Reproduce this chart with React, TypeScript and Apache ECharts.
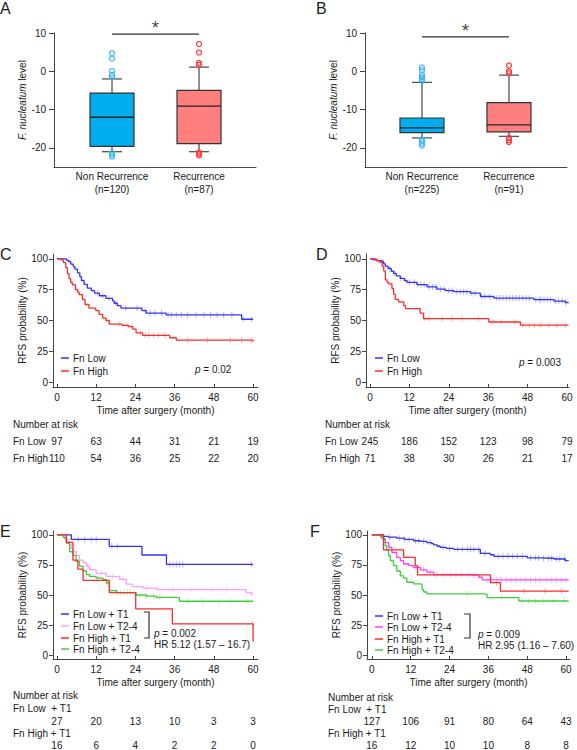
import React, { useEffect, useRef } from 'react';
import * as echarts from 'echarts';

const FONT = '"Liberation Sans", Arial, Helvetica, sans-serif';
const TXT = '#1a1a1a';
const AX = '#444';

// ---------- Panel A / B (box plots) ----------
const boxCategoriesA = ['Non Recurrence\n(n=120)', 'Recurrence\n(n=87)'];
// [lowWhisker, q1, median, q3, highWhisker]
const boxStatsA = [
  [-21, -19.6, -12, -5.7, -2],
  [-21, -18.9, -9.1, -5, 1.1],
];
const outliersA0 = [4.7, 3.3, 0.1, -0.9, -1.6, -21.3, -21.8, -22.3];
const outliersA1 = [7.1, 4.9, 2.2, 1.7, -21.2, -21.6, -22];
const sigLevelA = 9.7;

const boxCategoriesB = ['Non Recurrence\n(n=225)', 'Recurrence\n(n=91)'];
const boxStatsB = [
  [-17.4, -16, -14.8, -12.2, -2.9],
  [-17, -15.8, -14, -8.2, -1],
];
const outliersB0 = [1, 0.3, -0.9, -1.5, -2, -2.5, -17.8, -18.3, -18.9, -19.4];
const outliersB1 = [1.5, 0, -0.5, -17.4, -18, -18.5];
const sigLevelB = 9;
const boxTicks = [-20, -10, 0, 10];

// ---------- KM curves ----------
const kmTicksX = [0, 12, 24, 36, 48, 60];
const kmTicksY = [0, 25, 50, 75, 100];

const kmC_low: number[][] = [[0,100],[3,98.9],[3.6,97.9],[4.2,95.8],[5,93.8],[5.5,91.7],[6.3,88.6],[7,85.6],[7.5,82.5],[8.3,79.4],[9.3,76.3],[10.5,74.2],[11.5,72.2],[13,70.1],[15,68],[17,66],[17.5,64],[18.5,62],[19.6,60],[26,58],[27.3,56],[33.4,54.5],[56,54.5],[56.5,51],[60,51]];
const kmC_high: number[][] = [[0,100],[1.5,99],[2,97],[2.7,93],[3.2,88],[3.7,84],[4.2,81],[4.7,79],[5.7,75],[6.3,73],[6.8,71],[7.8,67],[8.6,63],[9.8,60],[11.9,58],[12.9,55],[14,52],[15,50],[16,47],[20,46],[22,45],[23.2,43],[24.2,40],[26.2,38],[34.5,36],[36.5,34],[60,34],[60,33]];
const censorC_low = [12.5, 14, 16, 18, 21, 24.5, 27, 28.5, 30, 32, 34, 35, 36.5, 38, 40, 42.5, 45, 47, 49, 51, 53.5, 57, 59.5];
const censorC_high = [19, 21.5, 23, 25.5, 27, 28, 29.5, 31, 33, 40, 46, 53, 56.5, 59.5];

const kmD_low: number[][] = [[0,100],[1,99.2],[2,98.6],[3.7,97.5],[4.2,96],[4.7,94.2],[5.5,92.3],[6.5,90],[7.2,88.2],[8,86.3],[9.2,84.2],[10.5,82.4],[11.3,81],[14.3,79.2],[17.4,77.3],[20.4,75.4],[23,74.3],[25.5,73.4],[30.6,72.2],[33.6,69.5],[37.7,68.2],[49.9,67],[56,65.8],[59.5,64.6],[60.5,64.6]];
const kmD_high: number[][] = [[0,100],[2,98.6],[3,97.2],[3.7,94.1],[4.2,90.1],[4.7,83],[5.2,81],[5.7,79.7],[6.7,76],[7.2,71.4],[7.7,67.1],[8.7,65.2],[10.3,62],[10.8,59.7],[14.8,59.7],[15.3,56],[16.3,51.6],[35.7,51.6],[36.2,48.8],[45.3,48.8],[45.8,46.2],[60.5,46.2]];
const censorD_low = [2.5, 4, 6, 7.5, 9.5, 11, 12, 13.5, 14.5, 15.5, 16.5, 18, 19, 20, 21.5, 22.5, 24, 25, 26.5, 27.5, 28.5, 29.5, 31, 32, 34, 35, 36.5, 38.5, 39.5, 40.5, 41.5, 42.5, 43.5, 44.5, 45.5, 46.5, 47.5, 48.5, 50.5, 51.5, 52, 53, 54, 55, 56.5, 57.5, 58.5, 59.5];
const censorD_high = [16.5, 18, 22, 25, 28, 33, 37.5, 40, 44, 46.5, 48.5, 50, 52, 54.5, 57, 59.5];

const kmE_lowT1: number[][] = [[0,100],[4.4,96.3],[16,90.5],[26,83.3],[33.5,75.5],[60,75.5]];
const kmE_lowT24: number[][] = [[0,100],[2.4,98],[2.9,96],[3.4,94],[3.9,92],[4.4,89],[4.9,86],[5.9,83],[6.9,79],[8,77],[9,74],[10,71],[12,68],[15.1,65.5],[19.2,63],[21.2,59],[23.2,57],[26.3,55.8],[30.4,54.5],[57.9,52],[59.5,51],[60,51]];
const kmE_highT1: number[][] = [[0,100],[2.9,93.8],[4.9,79],[6.4,71.5],[8,62.2],[16,52],[24.1,38.5],[35.3,26],[60,26],[60,11]];
const kmE_highT24: number[][] = [[0,100],[1.9,98],[2.4,97],[2.9,93],[3.9,86],[4.9,83],[5.9,78],[6.9,74],[8,70],[9,67],[10,65.5],[12,64],[14.1,63],[15.1,60],[16.1,53.7],[18.2,52],[24.2,50],[27.3,49],[30.4,48],[36.5,47.6],[37.5,44.8],[60,44.8]];
const censorE_lowT1 = [6.5, 8.5, 10.5, 12, 16.8, 18.5, 34.5, 35.5, 36.5, 37.5, 38.5, 59.5];
const censorE_lowT24 = [9.5, 13.5, 17, 20.5, 27.5, 31, 35.5, 41, 47.5, 52, 59.5];
const censorE_highT1 = [59.8];
const censorE_highT24 = [12.5, 15.5, 18.5, 19.5, 20.5, 21.5, 22.5, 23.5, 25.5, 27.5, 29.5, 31.5, 40, 44.5, 49.5, 53, 58];

const kmF_lowT1: number[][] = [[0,100],[3.6,98.8],[5,98.2],[7.7,97.3],[10,96.3],[12.9,95.2],[15,94.6],[17,93.6],[18.5,92.8],[19.1,91.8],[20.2,90.6],[21.1,89.6],[23,88.8],[25.3,88],[33.5,84.6],[36.6,83.5],[37.7,82.2],[48,81],[52,80.6],[56.3,80],[59.8,78.6],[60.8,78.6]];
const kmF_lowT24: number[][] = [[0,100],[3.1,97],[4.1,93.7],[5.2,89.6],[6.2,85.4],[7.7,81.3],[8.8,78.6],[9.8,75.8],[11.4,74.5],[12.9,73],[15,70.9],[17,69],[19.1,67],[29.4,66.5],[33,64.8],[34.1,62.6],[60.8,62.6]];
const kmF_highT1: number[][] = [[0,100],[3.6,87.5],[9.8,81.3],[13.4,74.5],[14.1,66.8],[36.6,60.3],[39.7,53.3],[60.8,53.3]];
const kmF_highT24: number[][] = [[0,100],[2.6,98.5],[3.6,96.4],[4.1,91],[4.6,87],[5.2,82.7],[5.7,78.6],[6.7,74.5],[7.7,70],[8.8,66],[9.8,64],[10.8,60.6],[12.9,59.3],[15,58.8],[15.5,54.4],[16,52.5],[17,51],[34.6,50.5],[35.6,47.8],[45.4,45],[60.8,45]];
const censorF_lowT1 = [5.5, 8.5, 10, 11.5, 13.5, 14.5, 16, 18, 22, 24, 26.5, 28, 29.5, 30.5, 31.5, 33, 35, 39, 40.5, 42, 43.5, 45, 46.5, 49, 50.5, 51.5, 53, 54.5, 55.5, 57, 58, 59.5];
const censorF_lowT24 = [13.5, 16, 18, 20, 22, 24.5, 26, 27.5, 30, 31.5, 35.5, 37, 38.5, 40, 41.5, 43, 44.5, 46, 47.5, 49, 50.5, 52, 54, 55.5, 57, 58.5, 60];
const censorF_highT1 = [38.5, 47, 53.5, 58.5];
const censorF_highT24 = [29.5, 40, 46.5, 48.5, 50.5, 53, 56, 59.5];

// Number at risk
const riskC_low = [97, 63, 44, 31, 21, 19];
const riskC_high = [110, 54, 36, 25, 22, 20];
const riskD_low = [245, 186, 152, 123, 98, 79];
const riskD_high = [71, 38, 30, 26, 21, 17];
const riskE_lowT1 = [27, 20, 13, 10, 3, 3];
const riskE_highT1 = [16, 6, 4, 2, 2, 0];
const riskF_lowT1 = [127, 106, 91, 80, 64, 43];
const riskF_highT1 = [16, 12, 10, 10, 8, 8];

// ---------- layout ----------
const L = {
  A: { left: 54, top: 33, width: 202, height: 134, xMin: -0.667, xMax: 1.655, yMin: -25, yMax: 10 },
  B: { left: 365, top: 33, width: 202, height: 134, xMin: -0.655, xMax: 1.667, yMin: -25, yMax: 10 },
  C: { left: 53, top: 254, width: 205, height: 133, xMin: -1.2, xMax: 61.5, yMin: -4, yMax: 104 },
  D: { left: 366, top: 254, width: 203, height: 133, xMin: -1.2, xMax: 60.6, yMin: -4, yMax: 104 },
  E: { left: 53, top: 531, width: 205, height: 128, xMin: -1.2, xMax: 61.5, yMin: -3.3, yMax: 103.3 },
  F: { left: 367, top: 531, width: 203, height: 128, xMin: -1.5, xMax: 61.2, yMin: -3.3, yMax: 103.3 },
};
type Lay = typeof L.A;

const C_BLUE = '#3232f5';
const C_RED = '#ff2a2a';
const C_PINK = '#ff9cff';
const C_MAG = '#ff3dff';
const C_GREEN = '#3ccf3c';

function survAt(curve: number[][], t: number) {
  let v = curve[0][1];
  for (const p of curve) {
    if (p[0] <= t) v = p[1];
    else break;
  }
  return v;
}

const tx = (lay: Lay, t: number) => lay.left + ((t - lay.xMin) / (lay.xMax - lay.xMin)) * lay.width;

const axisLineStyle = { color: AX, width: 1 };
const labelStyle = { fontSize: 10, color: TXT, fontFamily: FONT };

function boxX(idx: number, lay: Lay, cats: string[]) {
  return {
    type: 'value', gridIndex: idx, min: lay.xMin, max: lay.xMax,
    axisLine: { show: true, onZero: false, lineStyle: axisLineStyle },
    axisTick: { show: false },
    splitLine: { show: false },
    axisLabel: { ...labelStyle, customValues: [0, 1], margin: 3, lineHeight: 13, formatter: (v: number) => cats[Math.round(v)] },
  };
}
function boxY(idx: number, lay: Lay) {
  return {
    type: 'value', gridIndex: idx, min: lay.yMin, max: lay.yMax,
    name: '{i|F. nucleatum} level', nameLocation: 'middle', nameGap: 27, nameRotate: 90,
    nameTextStyle: { ...labelStyle, rich: { i: { fontStyle: 'italic', fontSize: 10, fontFamily: FONT, color: TXT } } },
    axisLine: { show: true, onZero: false, lineStyle: axisLineStyle },
    axisTick: { show: true, length: 5, customValues: boxTicks, lineStyle: axisLineStyle },
    splitLine: { show: false },
    axisLabel: { ...labelStyle, customValues: boxTicks, margin: 8 },
  };
}
function kmX(idx: number, lay: Lay) {
  return {
    type: 'value', gridIndex: idx, min: lay.xMin, max: lay.xMax,
    name: 'Time after surgery (month)', nameLocation: 'middle', nameGap: 18, nameTextStyle: { ...labelStyle },
    axisLine: { show: true, onZero: false, lineStyle: axisLineStyle },
    axisTick: { show: true, inside: true, length: 3, customValues: kmTicksX, lineStyle: axisLineStyle },
    splitLine: { show: false },
    axisLabel: { ...labelStyle, customValues: kmTicksX, margin: 5 },
  };
}
function kmY(idx: number, lay: Lay) {
  return {
    type: 'value', gridIndex: idx, min: lay.yMin, max: lay.yMax,
    name: 'RFS probability (%)', nameLocation: 'middle', nameGap: 24, nameRotate: 90, nameTextStyle: { ...labelStyle },
    axisLine: { show: true, onZero: false, lineStyle: axisLineStyle },
    axisTick: { show: true, length: 4, customValues: kmTicksY, lineStyle: axisLineStyle },
    splitLine: { show: false },
    axisLabel: { ...labelStyle, customValues: kmTicksY, margin: 5 },
  };
}

function boxSeries(idx: number, stats: number[][], fills: string[]) {
  return {
    type: 'custom', xAxisIndex: idx, yAxisIndex: idx, z: 3,
    data: stats.map((s, i) => [i, ...s]),
    renderItem: (params: any, api: any) => {
      const i = api.value(0);
      const c = (v: number) => api.coord([i, v]);
      const [cx, yLw] = c(api.value(1));
      const yQ1 = c(api.value(2))[1];
      const yMed = c(api.value(3))[1];
      const yQ3 = c(api.value(4))[1];
      const yHw = c(api.value(5))[1];
      const hb = 22, hc = 10;
      const ws = { stroke: '#555', lineWidth: 1.3 };
      return {
        type: 'group',
        children: [
          { type: 'line', shape: { x1: cx, y1: yHw, x2: cx, y2: yQ3 }, style: ws },
          { type: 'line', shape: { x1: cx, y1: yQ1, x2: cx, y2: yLw }, style: ws },
          { type: 'line', shape: { x1: cx - hc, y1: yHw, x2: cx + hc, y2: yHw }, style: ws },
          { type: 'line', shape: { x1: cx - hc, y1: yLw, x2: cx + hc, y2: yLw }, style: ws },
          { type: 'rect', shape: { x: cx - hb, y: yQ3, width: 2 * hb, height: yQ1 - yQ3 }, style: { fill: fills[params.dataIndex], stroke: '#333', lineWidth: 1.2 } },
          { type: 'line', shape: { x1: cx - hb, y1: yMed, x2: cx + hb, y2: yMed }, style: { stroke: '#222', lineWidth: 1.3 } },
        ],
      };
    },
  };
}
function outlierSeries(idx: number, cat: number, vals: number[], color: string) {
  return {
    type: 'scatter', xAxisIndex: idx, yAxisIndex: idx, z: 5,
    symbol: 'circle', symbolSize: 5,
    itemStyle: { color: 'rgba(255,255,255,0)', borderColor: color, borderWidth: 1.2, opacity: 1 },
    data: vals.map((v) => [cat, v]),
  };
}
function sigSeries(idx: number, level: number) {
  return [
    {
      type: 'line', xAxisIndex: idx, yAxisIndex: idx, symbol: 'none',
      lineStyle: { color: '#333', width: 1.2 },
      data: [[0, level], [1, level]],
    },
    {
      type: 'scatter', xAxisIndex: idx, yAxisIndex: idx, symbolSize: 0,
      data: [[0.5, level]],
      label: { show: true, formatter: '*', position: 'top', distance: -3, fontSize: 19, color: '#111', fontFamily: FONT },
    },
  ];
}
function kmSeries(idx: number, name: string, curve: number[][], color: string, censor: number[], censorColor: string) {
  return [
    {
      type: 'line', name, xAxisIndex: idx, yAxisIndex: idx, step: 'end', symbol: 'none', z: 3,
      lineStyle: { color, width: 1.3 }, data: curve,
    },
    {
      type: 'scatter', xAxisIndex: idx, yAxisIndex: idx, symbol: 'rect', symbolSize: [1, 6], z: 2,
      itemStyle: { color: censorColor },
      data: censor.map((t) => [t, survAt(curve, t)]),
    },
  ];
}

function txt(text: string, x: number, y: number, extra: any = {}) {
  return {
    type: 'text', x, y, silent: true,
    style: { text, fill: TXT, fontSize: 10, fontFamily: FONT, verticalAlign: 'middle', align: 'left', ...extra },
  };
}
function legendItem(x: number, y: number, color: string, label: string) {
  return [
    { type: 'line', shape: { x1: x, y1: y, x2: x + 8, y2: y }, style: { stroke: color, lineWidth: 1.5 } },
    txt(label, x + 12, y),
  ];
}
function riskRow(lay: Lay, vals: number[], y: number) {
  return vals.map((v, i) => txt(String(v), tx(lay, kmTicksX[i]), y, { align: 'center' }));
}
const italicP = { rich: { i: { fontStyle: 'italic', fontSize: 10, fontFamily: FONT, fill: TXT, color: TXT } } };

export default function App() {
  const ref = useRef<HTMLDivElement>(null);
  useEffect(() => {
    if (!ref.current) return;
    const chart = echarts.init(ref.current, undefined, { renderer: 'svg' });
    const grids = [L.A, L.B, L.C, L.D, L.E, L.F].map((g) => ({ left: g.left, top: g.top, width: g.width, height: g.height }));

    const graphic: any[] = [
      txt('A', 0, 8, { fontSize: 16 }),
      txt('B', 316, 8, { fontSize: 16 }),
      txt('C', 0, 254, { fontSize: 16 }),
      txt('D', 316, 254, { fontSize: 16 }),
      txt('E', 0, 531, { fontSize: 16 }),
      txt('F', 310, 531, { fontSize: 16 }),
      // C legend
      ...legendItem(61, 358, C_BLUE, 'Fn Low'),
      ...legendItem(61, 371, C_RED, 'Fn High'),
      txt('{i|p} = 0.02', 195, 369, italicP),
      // D legend
      ...legendItem(375, 358, C_BLUE, 'Fn Low'),
      ...legendItem(375, 371, C_RED, 'Fn High'),
      txt('{i|p} = 0.003', 519, 362, italicP),
      // C risk
      txt('Number at risk', 13, 424),
      txt('Fn Low', 13, 441),
      txt('Fn High', 13, 458),
      ...riskRow(L.C, riskC_low, 441),
      ...riskRow(L.C, riskC_high, 458),
      // D risk
      txt('Number at risk', 325, 424),
      txt('Fn Low', 325, 441),
      txt('Fn High', 325, 458),
      ...riskRow(L.D, riskD_low, 441),
      ...riskRow(L.D, riskD_high, 458),
      // E legend
      ...legendItem(61, 614, C_BLUE, 'Fn Low + T1'),
      ...legendItem(61, 626, C_PINK, 'Fn Low + T2-4'),
      ...legendItem(61, 638, C_RED, 'Fn High + T1'),
      ...legendItem(61, 649, C_GREEN, 'Fn High + T2-4'),
      { type: 'polyline', shape: { points: [[144, 612], [149, 612], [149, 638], [144, 638]] }, style: { stroke: '#333', lineWidth: 1.2, fill: null } },
      txt('{i|p} = 0.002', 154, 633, italicP),
      txt('HR 5.12 (1.57 – 16.7)', 154, 644),
      // F legend
      ...legendItem(375, 616, C_BLUE, 'Fn Low + T1'),
      ...legendItem(375, 627, C_MAG, 'Fn Low + T2-4'),
      ...legendItem(375, 639, C_RED, 'Fn High + T1'),
      ...legendItem(375, 650, C_GREEN, 'Fn High + T2-4'),
      { type: 'polyline', shape: { points: [[464, 614], [470, 614], [470, 638], [464, 638]] }, style: { stroke: '#333', lineWidth: 1.2, fill: null } },
      txt('{i|p} = 0.009', 478, 634, italicP),
      txt('HR 2.95 (1.16 – 7.60)', 478, 645),
      // E risk
      txt('Number at risk', 13, 695),
      txt('Fn Low  + T1', 13, 708),
      ...riskRow(L.E, riskE_lowT1, 721),
      txt('Fn High + T1', 13, 733),
      ...riskRow(L.E, riskE_highT1, 745),
      // F risk
      txt('Number at risk', 328, 697),
      txt('Fn Low  + T1', 328, 709),
      ...riskRow(L.F, riskF_lowT1, 721),
      txt('Fn High + T1', 328, 733),
      ...riskRow(L.F, riskF_highT1, 745),
    ];

    chart.setOption({
      animation: false,
      backgroundColor: '#fff',
      textStyle: { fontFamily: FONT },
      grid: grids,
      xAxis: [boxX(0, L.A, boxCategoriesA), boxX(1, L.B, boxCategoriesB), kmX(2, L.C), kmX(3, L.D), kmX(4, L.E), kmX(5, L.F)],
      yAxis: [boxY(0, L.A), boxY(1, L.B), kmY(2, L.C), kmY(3, L.D), kmY(4, L.E), kmY(5, L.F)],
      series: [
        boxSeries(0, boxStatsA, ['#00aeef', '#ff7f7f']),
        outlierSeries(0, 0, outliersA0, '#3cb8f0'),
        outlierSeries(0, 1, outliersA1, '#ff3a3a'),
        ...sigSeries(0, sigLevelA),
        boxSeries(1, boxStatsB, ['#00aeef', '#ff7f7f']),
        outlierSeries(1, 0, outliersB0, '#3cb8f0'),
        outlierSeries(1, 1, outliersB1, '#ff3a3a'),
        ...sigSeries(1, sigLevelB),
        ...kmSeries(2, 'Fn Low', kmC_low, C_BLUE, censorC_low, '#a0a0ff'),
        ...kmSeries(2, 'Fn High', kmC_high, C_RED, censorC_high, '#ffa0a0'),
        ...kmSeries(3, 'Fn Low', kmD_low, C_BLUE, censorD_low, '#a0a0ff'),
        ...kmSeries(3, 'Fn High', kmD_high, C_RED, censorD_high, '#ffa0a0'),
        ...kmSeries(4, 'Fn Low + T1', kmE_lowT1, C_BLUE, censorE_lowT1, '#a0a0ff'),
        ...kmSeries(4, 'Fn Low + T2-4', kmE_lowT24, C_PINK, censorE_lowT24, '#ffc8ff'),
        ...kmSeries(4, 'Fn High + T2-4', kmE_highT24, C_GREEN, censorE_highT24, '#a8eaa8'),
        ...kmSeries(4, 'Fn High + T1', kmE_highT1, C_RED, censorE_highT1, '#ffa0a0'),
        ...kmSeries(5, 'Fn Low + T1', kmF_lowT1, C_BLUE, censorF_lowT1, '#a0a0ff'),
        ...kmSeries(5, 'Fn Low + T2-4', kmF_lowT24, C_MAG, censorF_lowT24, '#ffa8ff'),
        ...kmSeries(5, 'Fn High + T2-4', kmF_highT24, C_GREEN, censorF_highT24, '#a8eaa8'),
        ...kmSeries(5, 'Fn High + T1', kmF_highT1, C_RED, censorF_highT1, '#ffa0a0'),
      ],
      graphic,
    });
    return () => chart.dispose();
  }, []);
  return <div ref={ref} style={{ position: 'fixed', left: 0, top: 0, width: 577, height: 750, background: '#fff' }} />;
}
